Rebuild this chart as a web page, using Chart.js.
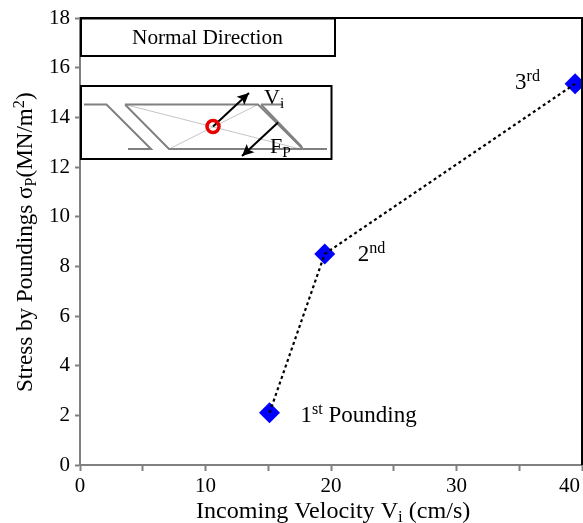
<!DOCTYPE html>
<html><head><meta charset="utf-8">
<style>html,body{margin:0;padding:0;background:#fff}canvas{display:block}</style>
<script src="https://cdn.jsdelivr.net/npm/chart.js@4"></script>
</head><body><canvas id="c" width="583" height="523"></canvas>
<script>
const velocity = [15.1, 19.5, 39.45];
const stress = [2.1, 8.5, 15.35];
const xTickLabels = [0, 10, 20, 30, 40];
const yTickLabels = [0, 2, 4, 6, 8, 10, 12, 14, 16, 18];
const poundingLabels = [
  [['1', 0], ['st', 1], [' Pounding', 0]],
  [['2', 0], ['nd', 1]],
  [['3', 0], ['rd', 1]]
];
const labelOffsets = [[31, 9], [33, 7], [-60, 5]];
const FONT = '"Liberation Serif"';
const GRAY = '#808080';

function segs(ctx, parts, x, y, size) {
  ctx.textAlign = 'left'; ctx.textBaseline = 'alphabetic';
  for (const [t, mode] of parts) {
    const s = mode ? size * 0.7 : size;
    const dy = mode === 1 ? -size * 0.36 : mode === -1 ? size * 0.18 : 0;
    ctx.font = s + 'px ' + FONT;
    ctx.fillText(t, x, y + dy);
    x += ctx.measureText(t).width;
  }
}
function poly(ctx, pts, color, w) {
  ctx.strokeStyle = color; ctx.lineWidth = w; ctx.beginPath();
  pts.forEach((p, i) => i ? ctx.lineTo(p[0], p[1]) : ctx.moveTo(p[0], p[1]));
  ctx.stroke();
}
function arrow(ctx, a, b) {
  poly(ctx, [a, b], '#000', 2);
  const ang = Math.atan2(b[1] - a[1], b[0] - a[0]), L = 13, W = 0.45;
  ctx.fillStyle = '#000'; ctx.beginPath(); ctx.moveTo(b[0], b[1]);
  ctx.lineTo(b[0] - L * Math.cos(ang - W), b[1] - L * Math.sin(ang - W));
  ctx.lineTo(b[0] - L * 0.7 * Math.cos(ang), b[1] - L * 0.7 * Math.sin(ang));
  ctx.lineTo(b[0] - L * Math.cos(ang + W), b[1] - L * Math.sin(ang + W));
  ctx.closePath(); ctx.fill();
}

const decor = {
  id: 'decor',
  beforeDraw(chart) {
    const sx = chart.scales.x, items = sx.getLabelItems();
    const last = items[items.length - 1];
    if (last && last.label === '40') { last.options.textAlign = 'right'; last.options.translation = [580, last.options.translation[1]]; }
  },
  afterDraw(chart) {
    const ctx = chart.ctx, a = chart.chartArea, sx = chart.scales.x, sy = chart.scales.y;
    ctx.save();
    poly(ctx, [[a.left, a.top], [a.right, a.top], [a.right, a.bottom]], '#000', 2);

    ctx.fillStyle = '#000';
    // Inset boxes
    ctx.strokeStyle = '#000'; ctx.lineWidth = 2;
    ctx.strokeRect(81, 18.5, 254, 37.5);
    ctx.strokeRect(81, 86, 250.5, 73);
    ctx.font = '21.3px ' + FONT; ctx.textAlign = 'left'; ctx.textBaseline = 'alphabetic';
    ctx.fillText('Normal Direction', 132, 43.5);

    // Inset sketch
    poly(ctx, [[125, 104.5], [300, 149]], '#c4c4c4', 1);
    poly(ctx, [[169, 149], [258, 104.5]], '#c4c4c4', 1);
    poly(ctx, [[84, 104.5], [106.5, 104.5], [151, 149], [128, 149]], GRAY, 2);
    poly(ctx, [[125, 104.5], [258, 104.5], [303, 149], [327, 149]], GRAY, 2);
    poly(ctx, [[125, 104.5], [169, 149], [302, 149]], GRAY, 2);
    poly(ctx, [[261, 104.5], [283, 104.5]], GRAY, 2);
    poly(ctx, [[261, 104.5], [302, 147]], GRAY, 2);
    arrow(ctx, [213, 126.5], [249, 93]);
    arrow(ctx, [278, 122.5], [242, 156]);
    ctx.strokeStyle = '#e60000'; ctx.lineWidth = 3.5;
    ctx.beginPath(); ctx.arc(213, 126.5, 6, 0, Math.PI * 2); ctx.stroke();
    ctx.fillStyle = '#000';
    segs(ctx, [['V', 0], ['i', -1]], 264, 104, 22);
    segs(ctx, [['F', 0], ['P', -1]], 270, 153, 22);

    // Point labels, anchored on the data
    velocity.forEach((v, i) => {
      segs(ctx, poundingLabels[i],
        sx.getPixelForValue(v) + labelOffsets[i][0],
        sy.getPixelForValue(stress[i]) + labelOffsets[i][1], 23);
    });

    // Axis titles
    segs(ctx, [['Incoming Velocity V', 0], ['i', -1], [' (cm/s)', 0]], 196, 517.5, 24.1);
    ctx.translate(32, 392); ctx.rotate(-Math.PI / 2);
    segs(ctx, [['Stress by Poundings σ', 0], ['P', -1], ['(MN/m', 0], ['2', 1], [')', 0]], 0, 0, 23.1);
    ctx.restore();
  }
};

new Chart(document.getElementById('c'), {
  type: 'scatter',
  data: { datasets: [
    { label: 'Trend', data: velocity.map((v, i) => ({ x: v, y: stress[i] })), showLine: true,
      borderColor: '#000', borderWidth: 2.2, borderDash: [3, 3], pointRadius: 0, order: 0, clip: false },
    { label: 'Stress', data: velocity.map((v, i) => ({ x: v, y: stress[i] })), showLine: false,
      pointStyle: 'rectRot', pointRadius: 10.5, pointBackgroundColor: '#0000ff', pointBorderColor: '#0000ff',
      pointBorderWidth: 0, order: 1, clip: false }
  ] },
  options: {
    responsive: false, animation: false,
    events: [],
    layout: { autoPadding: false, padding: { left: 0, top: 18, right: 1, bottom: 0 } },
    plugins: { legend: { display: false }, tooltip: { enabled: false } },
    scales: {
      x: {
        type: 'linear', min: 0, max: 40,
        afterFit(s) { s.height = 58; s.paddingLeft = 0; s.paddingRight = 0; },
        afterBuildTicks(s) { s.ticks = [0, 5, 10, 15, 20, 25, 30, 35, 40].map(value => ({ value })); },
        ticks: { autoSkip: false, maxRotation: 0, padding: 3, color: '#000',
          font: { family: FONT, size: 21 },
          callback: v => xTickLabels.includes(v) ? String(v) : '' },
        border: { color: GRAY, width: 2 },
        grid: { drawOnChartArea: false, tickLength: 6, tickColor: GRAY, tickWidth: 2 }
      },
      y: {
        type: 'linear', min: 0, max: 18,
        afterFit(s) { s.width = 80; s.paddingTop = 0; s.paddingBottom = 0; },
        afterBuildTicks(s) { s.ticks = yTickLabels.map(value => ({ value })); },
        ticks: { autoSkip: false, padding: 5, color: '#000',
          font: { family: FONT, size: 21 } },
        border: { color: GRAY, width: 2 },
        grid: { drawOnChartArea: false, tickLength: 5, tickColor: GRAY, tickWidth: 2 }
      }
    }
  },
  plugins: [decor]
});
</script></body></html>
